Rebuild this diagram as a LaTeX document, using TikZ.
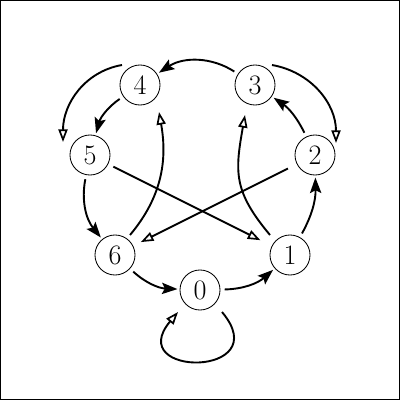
\documentclass[tikz,border=0pt]{standalone}
\usetikzlibrary{arrows.meta}
\begin{document}
\begin{tikzpicture}[x=0.025cm,y=0.025cm,
  state/.style={circle,draw,line width=0.6pt,minimum size=1cm,inner sep=0pt,font=\fontsize{20}{24}\selectfont},
  fe/.style={line width=1.35pt,-{Stealth[length=11pt,width=8pt,inset=2pt]},shorten <=3pt,shorten >=1.5pt},
  oe/.style={line width=1.35pt,-{Triangle[open,length=9pt,width=6.5pt,line width=1.2pt]}}]
\useasboundingbox (0,0) rectangle (400,-400);
\draw[line width=1.6pt] (0,0) rectangle (400,-400);

\node[state] (n0) at (200,-290) {0};
\node[state] (n1) at (290,-255) {1};
\node[state] (n2) at (315,-155) {2};
\node[state] (n3) at (255,-85) {3};
\node[state] (n4) at (140,-85) {4};
\node[state] (n5) at (90,-155) {5};
\node[state] (n6) at (115,-255) {6};

% filled-head cycle
\draw[fe] (n6) to[bend right=20] (n0);
\draw[fe] (n0) to[bend right=20] (n1);
\draw[fe] (n1) to[bend right=15] (n2);
\draw[fe] (n2) to[bend right=15] (n3);
\draw[fe] (n3) to[bend right=33] (n4);
\draw[fe] (n4) to[bend right=20] (n5);
\draw[fe] (n5) to[bend right=25] (n6);

% open-head edges
\draw[oe] ([shift={(-18,20)}]n4.center) to[out=190,in=90] ([shift={(-27,13)}]n5.center);
\draw[oe] ([shift={(17,20)}]n3.center) to[out=-10,in=90] ([shift={(21,12)}]n2.center);
\draw[oe] ([shift={(15,20)}]n6.center) to[out=50,in=-80] ([shift={(19,-27)}]n4.center);
\draw[oe] ([shift={(-20,20)}]n1.center) to[out=130,in=-100,looseness=1.2] ([shift={(-10,-30)}]n3.center);
\draw[oe,shorten <=4pt,shorten >=9pt] (n5) -- (n1);
\draw[oe,shorten <=7pt,shorten >=6pt] (n2) -- (n6);
\draw[oe] ([shift={(22,-22)}]n0.center) to[out=-50,in=-130,looseness=5] ([shift={(-22,-22)}]n0.center);
\end{tikzpicture}
\end{document}
